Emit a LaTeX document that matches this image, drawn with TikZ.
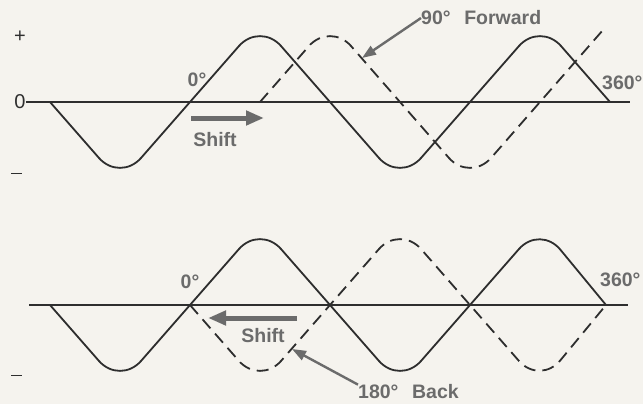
\documentclass[tikz,border=0pt]{standalone}
\usepackage{fontspec}
\setmainfont{Liberation Sans}
\usetikzlibrary{arrows.meta}
\definecolor{paper}{HTML}{F5F3EE}
\definecolor{ink}{HTML}{2E2E2E}
\definecolor{slate}{HTML}{6B6B6B}

\tikzset{
  wave/.style={ink, line width=1.8pt, rounded corners=32pt, line join=round},
  shifted/.style={wave, dash pattern=on 12pt off 7pt},
  axisline/.style={ink, line width=1.4pt},
  lbl/.style={text=slate, font=\fontsize{19.5}{22}\selectfont\bfseries, inner sep=0pt},
  sign/.style={text=ink, font=\fontsize{20}{22}\selectfont, inner sep=0pt},
  shiftarrow/.style={slate, line width=5pt, -{Triangle[length=18pt,width=14pt]}},
  pointer/.style={slate, line width=2.4pt, -{Triangle[length=14pt,width=10pt]}},
}

\begin{document}
\begin{tikzpicture}[x=1pt, y=-1pt]
  \fill[paper] (0,0) rectangle (643,404);
  \useasboundingbox (0,0) rectangle (643,404);

  % upper plot: 90 degrees forward
  \node[sign] (plus) at (20,37)  {+};
  \node[sign] (zero) at (20,102) {0};
  \node[sign] (minA) at (17,175) {\rule[0.3ex]{0.55em}{1.2pt}};
  \draw[axisline] (zero.east) -- (630,102);
  \draw[wave] (50,102) -- (120,182) -- (260,22) -- (400,182) -- (540,22) -- (610,102);
  \draw[shifted] (260,102) -- (330,22) -- (470,182) -- (603,30);

  \node[lbl] (startA) at (197,80) {0°};
  \node[lbl, anchor=west] (endA) at (602,83) {360°};
  \node[lbl] (shiftA) at (215,140) {Shift};
  \coordinate (fromA) at (191,118);
  \coordinate (toA)   at (264,118);
  \draw[shiftarrow] (fromA) -- (toA);
  \node[lbl, anchor=west] (fwd) at (421,18) {90°\hspace{0.7em}Forward};
  \coordinate (fwdtip) at (362,58);
  \draw[pointer] (fwd.west) -- (fwdtip);

  % lower plot: 180 degrees back
  \node[sign] (minB) at (17,377) {\rule[0.3ex]{0.55em}{1.2pt}};
  \coordinate (axisB) at (29,305);
  \draw[axisline] (axisB) -- (628,305);
  \draw[wave] (50,305) -- (120,385) -- (260,225) -- (400,385) -- (540,225) -- (606,305);
  \draw[shifted] (190,305) -- (260,385) -- (400,225) -- (540,385) -- (606,305);

  \node[lbl] (startB) at (190,282) {0°};
  \node[lbl, anchor=west] (endB) at (600,280) {360°};
  \node[lbl] (shiftB) at (263,336) {Shift};
  \coordinate (fromB) at (297,318);
  \coordinate (toB)   at (208,318);
  \draw[shiftarrow] (fromB) -- (toB);
  \node[lbl, anchor=west] (back) at (358,392) {180°\hspace{0.7em}Back};
  \coordinate (backtip) at (292,349);
  \draw[pointer] (back.north west) -- (backtip);
\end{tikzpicture}
\end{document}
